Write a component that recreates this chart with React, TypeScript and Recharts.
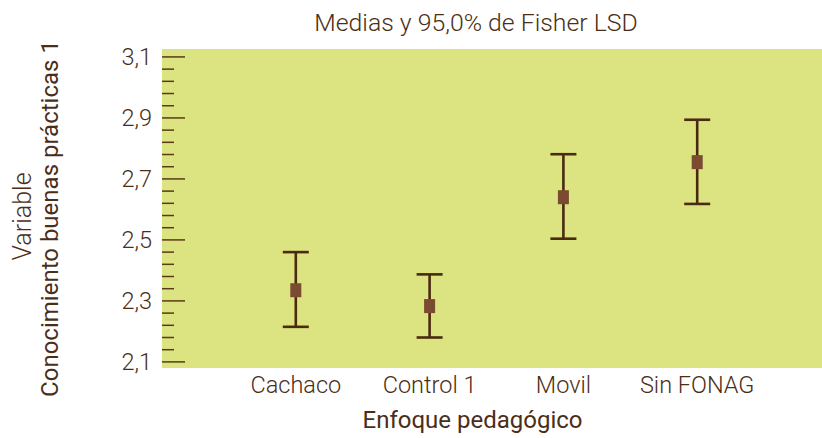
import { ComposedChart, Scatter, ErrorBar, XAxis, YAxis, CartesianGrid, Label } from "recharts";

const CATEGORIES = ["Cachaco", "Control 1", "Movil", "Sin FONAG"];
const MEANS = [2.335, 2.283, 2.64, 2.755];
const LOWER = [2.215, 2.18, 2.504, 2.618];
const UPPER = [2.46, 2.387, 2.781, 2.894];
const MAJOR_TICKS = [2.1, 2.3, 2.5, 2.7, 2.9, 3.1];
const MINOR_PER_MAJOR = 4;

const TEXT = "#4b2e17";
const BG = "#dbe480";
const BAR = "#4a2a10";
const BOX = "#7a4a31";
const FONT = "Roboto, 'Liberation Sans', sans-serif";

// minor ticks every 0.04 between the major ones
const ALL_TICKS: number[] = [];
MAJOR_TICKS.forEach((t, i) => {
  ALL_TICKS.push(t);
  if (i < MAJOR_TICKS.length - 1) {
    const step = (MAJOR_TICKS[i + 1] - t) / (MINOR_PER_MAJOR + 1);
    for (let k = 1; k <= MINOR_PER_MAJOR; k++) ALL_TICKS.push(Math.round((t + step * k) * 100) / 100);
  }
});

const isMajor = (v: number) => MAJOR_TICKS.some(m => Math.abs(m - v) < 1e-6);

const rows = CATEGORIES.map((name, i) => ({
  x: i + 1,
  name,
  mean: MEANS[i],
  err: [MEANS[i] - LOWER[i], UPPER[i] - MEANS[i]],
}));

// eslint-disable-next-line @typescript-eslint/no-explicit-any
const LeftTick = ({ x, y, payload }: any) => {
  const major = isMajor(payload.value);
  return (
    <g>
      <line x1={x} x2={x + (major ? 23 : 12)} y1={y} y2={y} stroke="#5a3a18" strokeWidth={1.5} />
      {major && (
        <text x={x - 10} y={y} dy="0.35em" textAnchor="end" fill={TEXT} fontSize={23.5} fontFamily={FONT} fontWeight={300}>
          {payload.value.toFixed(1).replace(".", ",")}
        </text>
      )}
    </g>
  );
};

// eslint-disable-next-line @typescript-eslint/no-explicit-any
const RightTick = ({ x, y, payload }: any) => {
  const major = isMajor(payload.value);
  return <line x1={x - (major ? 23 : 12)} x2={x} y1={y} y2={y} stroke="#5a3a18" strokeWidth={1.5} />;
};

// eslint-disable-next-line @typescript-eslint/no-explicit-any
const MeanBox = ({ cx, cy }: any) => (
  <rect x={cx - 5.5} y={cy - 7} width={11} height={14} fill={BOX} />
);

// eslint-disable-next-line @typescript-eslint/no-explicit-any
const YTitle = ({ viewBox }: any) => {
  const cy = viewBox.y + viewBox.height / 2 + 10;
  return (
    <g fontFamily={FONT} fill={TEXT}>
      <text x={22} y={cy - 2} transform={`rotate(-90 22 ${cy - 2})`} textAnchor="middle" dominantBaseline="central" fontSize={25} fontWeight={300}>
        Variable
      </text>
      <text x={50} y={cy} transform={`rotate(-90 50 ${cy})`} textAnchor="middle" dominantBaseline="central" fontSize={24}>
        Conocimiento buenas prácticas 1
      </text>
    </g>
  );
};

export default function App() {
  return (
    <div style={{ position: "fixed", left: 0, top: 0, width: 822, height: 438, overflow: "hidden", background: "#fff" }}>
      <div
        style={{
          position: "absolute", left: 226, top: 10, width: 500, textAlign: "center",
          fontFamily: FONT, fontWeight: 300, fontSize: 24.8, lineHeight: "25px", color: TEXT,
        }}
      >
        Medias y 95,0% de Fisher LSD
      </div>
      <ComposedChart width={841} height={438} data={rows} margin={{ top: 49, right: 0, left: 100, bottom: 0 }}>
        <CartesianGrid stroke="none" fill={BG} />
        <XAxis
          dataKey="x"
          type="number"
          domain={[0, 5]}
          ticks={[1, 2, 3, 4]}
          tickFormatter={v => CATEGORIES[v - 1] ?? ""}
          axisLine={false}
          tickLine={false}
          tickSize={0}
          tickMargin={8}
          height={70}
          tick={{ fill: TEXT, fontSize: 23.5, fontFamily: FONT, fontWeight: 300 }}
        >
          <Label value="Enfoque pedagógico" position="insideBottom" offset={10} dx={-24} fill={TEXT} fontSize={24} fontFamily={FONT} />
        </XAxis>
        <YAxis
          yAxisId="left"
          type="number"
          domain={[2.08, 3.126]}
          ticks={ALL_TICKS}
          interval={0}
          width={62}
          axisLine={false}
          tickLine={false}
          tickSize={0}
          tickMargin={0}
          tick={<LeftTick />}
          label={<YTitle />}
        />
        <YAxis
          yAxisId="right"
          orientation="right"
          type="number"
          domain={[2.08, 3.126]}
          ticks={ALL_TICKS}
          interval={0}
          width={10}
          axisLine={false}
          tickLine={false}
          tickSize={0}
          tickMargin={0}
          tick={<RightTick />}
        />
        <Scatter yAxisId="left" dataKey="mean" shape={<MeanBox />} isAnimationActive={false}>
          <ErrorBar dataKey="err" direction="y" width={13} stroke={BAR} strokeWidth={2.6} isAnimationActive={false} />
        </Scatter>
      </ComposedChart>
    </div>
  );
}
